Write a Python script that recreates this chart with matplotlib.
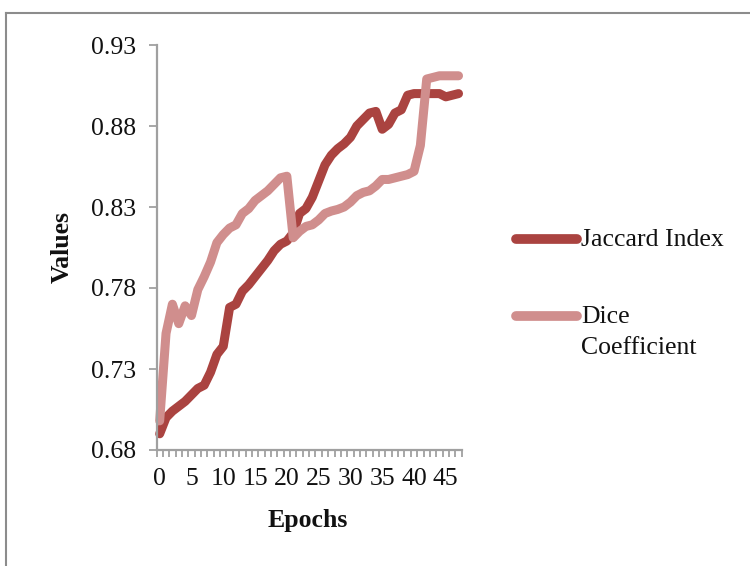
import numpy as np
import matplotlib
matplotlib.use('Agg')
import matplotlib.pyplot as plt
from matplotlib.lines import Line2D

plt.rcParams['font.family'] = ['Liberation Serif', 'DejaVu Serif']

# values, one per epoch (0..47)
epochs = np.arange(48)
jaccard = [0.690, 0.700, 0.704, 0.707, 0.710, 0.714, 0.718, 0.720, 0.728, 0.739,
           0.744, 0.768, 0.770, 0.778, 0.782, 0.787, 0.792, 0.797, 0.803, 0.807,
           0.809, 0.814, 0.826, 0.829, 0.836, 0.846, 0.856, 0.862, 0.866, 0.869,
           0.873, 0.880, 0.884, 0.888, 0.889, 0.878, 0.881, 0.888, 0.890, 0.899,
           0.900, 0.900, 0.900, 0.900, 0.900, 0.898, 0.899, 0.900]
dice = [0.698, 0.752, 0.770, 0.758, 0.769, 0.763, 0.779, 0.787, 0.796, 0.808,
        0.813, 0.817, 0.819, 0.826, 0.829, 0.834, 0.837, 0.840, 0.844, 0.848,
        0.849, 0.811, 0.815, 0.818, 0.819, 0.822, 0.826, 0.8275, 0.8285, 0.830,
        0.833, 0.837, 0.839, 0.840, 0.843, 0.847, 0.847, 0.848, 0.849, 0.850,
        0.852, 0.868, 0.909, 0.910, 0.911, 0.911, 0.911, 0.911]
names = ['Jaccard Index', 'Dice\nCoefficient']
colors = ['#AA4340', '#D08E8D']
yticks = [0.68, 0.73, 0.78, 0.83, 0.88, 0.93]
xticks = list(range(0, 46, 5))

fig = plt.figure(figsize=(7.5, 5.66), dpi=100)
W, H = 750.0, 566.0
ax = fig.add_axes([156.5 / W, 1 - 450 / H, 305.2 / W, 405 / H])

for ys, c in zip([jaccard, dice], colors):
    ax.plot(epochs, ys, color=c, lw=6.5, solid_capstyle='round',
            solid_joinstyle='round', clip_on=False)

gray = '#A0A0A0'
ink = '#111111'
ax.set_xlim(-0.5, 47.5)
ax.set_ylim(0.68, 0.93)
ax.set_yticks(yticks)
ax.set_yticklabels(['%.2f' % v for v in yticks])
ax.set_xticks(xticks)
ax.set_xticklabels([str(v) for v in xticks])
ax.set_xticks(np.arange(-0.5, 48, 1), minor=True)
for s in ('top', 'right'):
    ax.spines[s].set_visible(False)
for s in ('left', 'bottom'):
    ax.spines[s].set_color(gray)
    ax.spines[s].set_linewidth(1.6)
ax.tick_params(axis='y', length=6, width=1.3, color=gray, pad=9,
               labelsize=18.5, labelcolor=ink)
ax.tick_params(axis='x', which='major', length=0, pad=13,
               labelsize=18.5, labelcolor=ink)
ax.tick_params(axis='x', which='minor', length=5, width=1.3, color=gray)

fig.text(62 / W, 1 - 247 / H, 'Values', rotation=90, ha='center', va='center',
         fontsize=18.5, fontweight='bold', color=ink)
fig.text(308 / W, 1 - 520 / H, 'Epochs', ha='center', va='center',
         fontsize=18.5, fontweight='bold', color=ink)

# legend drawn by hand so the swatch sits on the first text line
for k, (lab, c) in enumerate(zip(names, colors)):
    yy = 1 - (239 + 77 * k) / H
    fig.add_artist(Line2D([516 / W, 577 / W], [yy, yy], color=c, lw=7,
                          solid_capstyle='round'))
    fig.text(581 / W, yy + 10 / H, lab, ha='left', va='top', fontsize=18.5,
             color=ink, linespacing=1.55)

# outer chart border (only left and top visible in the crop)
fig.add_artist(Line2D([6 / W, 6 / W], [0, 1 - 13 / H], color='#8C8C8C', lw=1.5))
fig.add_artist(Line2D([6 / W, 1], [1 - 13 / H, 1 - 13 / H], color='#8C8C8C', lw=1.5))

fig.savefig('out.png', dpi=100)
